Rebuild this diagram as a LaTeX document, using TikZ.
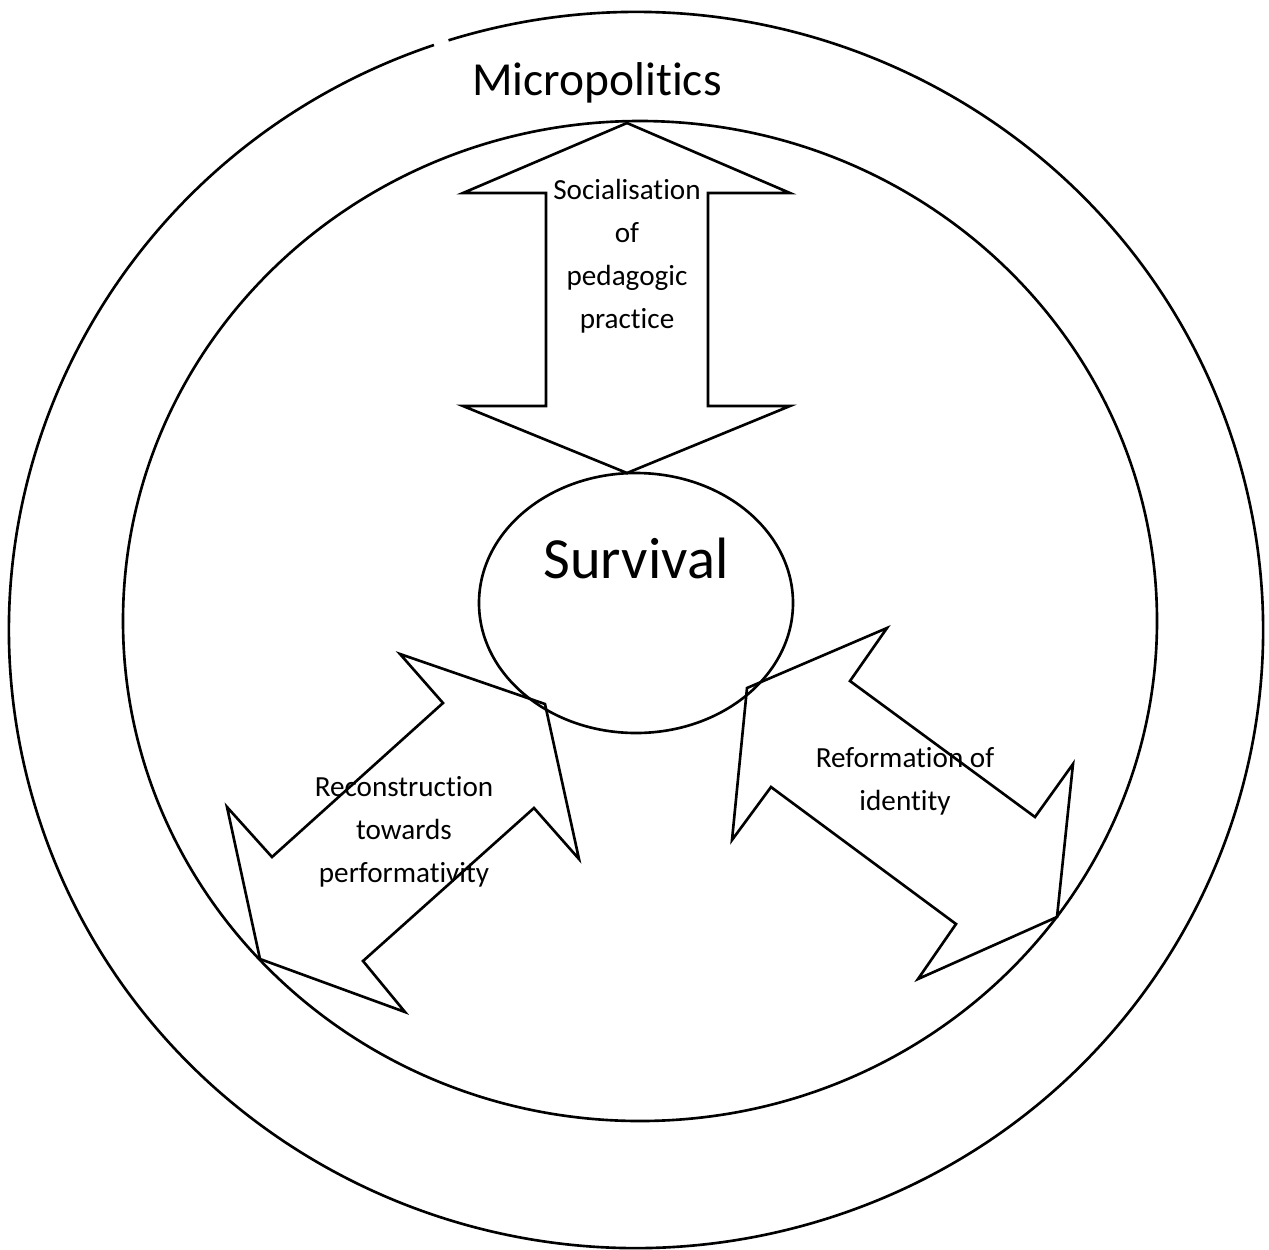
\documentclass[tikz,border=0pt]{standalone}
\usepackage{fontspec}
\setmainfont{Carlito}[Ligatures={NoCommon,NoContextual}]
\usetikzlibrary{positioning}
\tikzset{
	umriss/.style={draw=black, line width=1.5pt, line join=miter},
	beschriftung/.style={font=\fontsize{16.6}{24.4}\selectfont, align=center, anchor=base},
}
\begin{document}
\begin{tikzpicture}[x=0.02cm, y=-0.02cm]
	\useasboundingbox (0,0) rectangle (1269,1249);
	% Kreise
	\draw[umriss] (636,630) ++(-107.4:627 and 618) arc[start angle=-107.4,
	end angle=251.2, x radius=627, y radius=618];
	\draw[umriss] (640,621) ellipse [x radius=517, y radius=500];
	\node[font=\fontsize{27}{32}\selectfont, anchor=base] (mikro) at (597,95)
	{Micropolitics};

	% Mitte
	\draw[umriss] (636,603) ellipse [x radius=157, y radius=130];
	\node[font=\fontsize{33.2}{40}\selectfont, anchor=base] (survival) at
	(636,578) {Survival};

	% Pfeil oben (Basis = letzte Zeile)
	\draw[umriss] (627,123) -- (790,193) -- (708,193) -- (708,406) -- (790,406)
	-- (627,473) -- (463,406) -- (546,406) -- (546,193) -- (463,193) -- cycle;
	\node[beschriftung] (sozial) at (627,328)
	{Socialisation\\of\\pedagogic\\practice};

	% Pfeil links
	\draw[umriss] (400,654) -- (545,704) -- (579,859) -- (534,808) -- (363,961)
	-- (405,1012) -- (260,959) -- (227,807) -- (272,857) -- (443,703) -- cycle;
	\node[beschriftung] (rekon) at (404,882)
	{Reconstruction\\towards\\performativity};

	% Pfeil rechts
	\draw[umriss] (747,688) -- (887,628) -- (850,681) -- (1035,817) -- (1073,764)
	-- (1057,917) -- (918,979) -- (956,924) -- (771,787) -- (732,840) -- cycle;
	\node[beschriftung] (reform) at (905,810) {Reformation of\\identity};
\end{tikzpicture}
\end{document}
